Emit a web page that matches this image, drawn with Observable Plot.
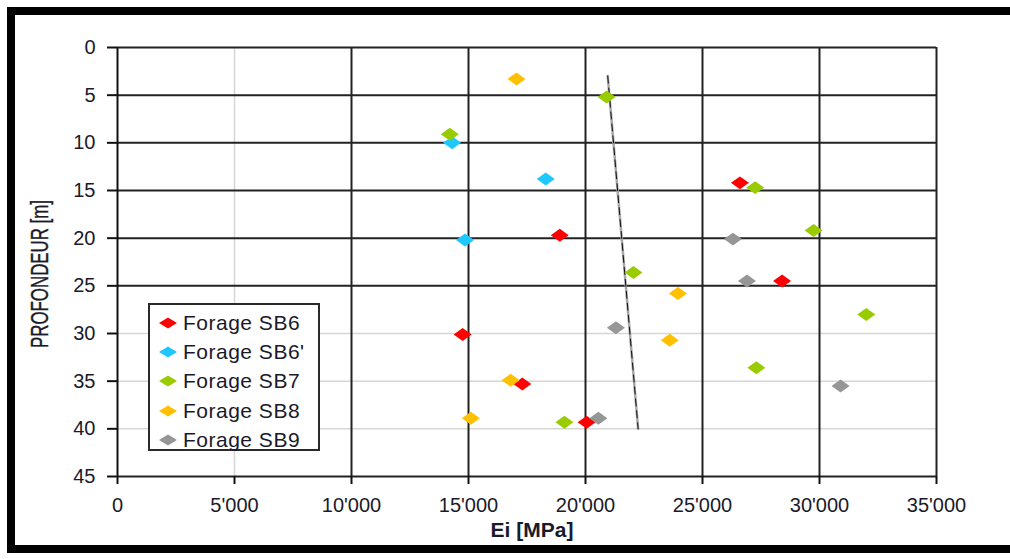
<!DOCTYPE html>
<html>
<head>
<meta charset="utf-8">
<script src="https://cdn.jsdelivr.net/npm/d3@7"></script>
<script src="https://cdn.jsdelivr.net/npm/@observablehq/plot@0.6"></script>
<style>
  html, body { margin: 0; padding: 0; background: #fff; }
  #wrap { position: relative; width: 1010px; height: 559px; overflow: hidden; font-family: "Liberation Sans", Arial, sans-serif; }
  #frame { position: absolute; left: 7px; top: 7px; width: 1020px; height: 546px; border-top: 8px solid #000; border-left: 8px solid #000; border-bottom: 8px solid #000; box-sizing: border-box; }
  #chart { position: absolute; left: 0; top: 0; }
  #legend { position: absolute; left: 148px; top: 303px; width: 172px; height: 148px; box-sizing: border-box; border: 2px solid #2a2a2a; background: #fff; padding-top: 3px; }
  .item { height: 29.3px; display: flex; align-items: center; font-size: 21px; letter-spacing: 0.5px; color: #1a1a2a; white-space: nowrap; }
  .item svg { margin-left: 8px; margin-right: 5px; }
</style>
</head>
<body>
<div id="wrap">
  <div id="chart"></div>
  <div id="frame"></div>
  <div id="legend"></div>
</div>
<script>
// ---- data ----
const seriesNames = ["Forage SB6", "Forage SB6'", "Forage SB7", "Forage SB8", "Forage SB9"];
const seriesColors = ["#ff0000", "#1ec8ff", "#99cc00", "#ffc000", "#969696"];

const sb6Ei    = [26600, 18900, 28400, 14750, 17300, 20050];
const sb6Depth = [14.2, 19.7, 24.5, 30.1, 35.3, 39.3];

const sb6pEi    = [14300, 18300, 14850];
const sb6pDepth = [10.0, 13.8, 20.2];

const sb7Ei    = [20900, 14200, 27250, 29750, 22050, 32000, 27300, 19100];
const sb7Depth = [5.2, 9.1, 14.7, 19.2, 23.6, 28.0, 33.6, 39.3];

const sb8Ei    = [17050, 23950, 23600, 16800, 15100];
const sb8Depth = [3.3, 25.8, 30.7, 34.9, 38.9];

const sb9Ei    = [26300, 26900, 21300, 30900, 20550];
const sb9Depth = [20.1, 24.5, 29.4, 35.5, 38.9];

const trendEi    = [20950, 22250];
const trendDepth = [3.0, 40.0];

const eiTicks    = [0, 5000, 10000, 15000, 20000, 25000, 30000, 35000];
const depthTicks = [0, 5, 10, 15, 20, 25, 30, 35, 40, 45];
const eiGridDark = [10000, 15000, 20000, 25000, 30000, 35000];
const eiGridLight = [5000];
const depthGridDark = [0, 5, 10, 15, 20, 25];
const depthGridLight = [30, 35, 40];

const xTitle = "Ei [MPa]";
const yTitle = "PROFONDEUR [m]";

// ---- build table ----
const seriesEi = [sb6Ei, sb6pEi, sb7Ei, sb8Ei, sb9Ei];
const seriesDepth = [sb6Depth, sb6pDepth, sb7Depth, sb8Depth, sb9Depth];
const points = [];
seriesNames.forEach((name, i) => {
  seriesEi[i].forEach((v, j) => points.push({series: name, ei: v, depth: seriesDepth[i][j]}));
});
const trend = trendEi.map((v, i) => ({ei: v, depth: trendDepth[i]}));

const flatDiamond = {
  draw(context, size) {
    const r = Math.sqrt(size / Math.PI);
    const a = r, b = r * 0.72;
    context.moveTo(0, -b);
    context.lineTo(a, 0);
    context.lineTo(0, b);
    context.lineTo(-a, 0);
    context.closePath();
  }
};

const fmtEi = d => d === 0 ? "0" : d3.format(",")(d).replace(/,/g, "'");
const tickColor = "#1a1a2a";

const chart = Plot.plot({
  width: 1010,
  height: 559,
  marginLeft: 117,
  marginRight: 74,
  marginTop: 47,
  marginBottom: 83,
  style: {fontFamily: "'Liberation Sans', Arial, sans-serif", background: "transparent"},
  x: {domain: [0, 35000]},
  y: {domain: [0, 45], reverse: true},
  color: {domain: seriesNames, range: seriesColors},
  marks: [
    Plot.ruleY(depthGridLight, {stroke: "#d6d6d6", strokeWidth: 1.5}),
    Plot.ruleX(eiGridLight, {stroke: "#d6d6d6", strokeWidth: 1.5}),
    Plot.ruleY(depthGridDark, {stroke: "#222", strokeWidth: 2}),
    Plot.ruleX(eiGridDark, {stroke: "#222", strokeWidth: 2}),
    Plot.ruleX([0], {stroke: "#111", strokeWidth: 2}),
    Plot.ruleY([45], {stroke: "#222", strokeWidth: 2}),
    Plot.axisX({ticks: eiTicks, tickFormat: fmtEi, tickSize: 8, tickPadding: 13, fontSize: 20, stroke: "#111", strokeWidth: 2, color: tickColor, label: null}),
    Plot.axisY({ticks: depthTicks, tickSize: 10, tickPadding: 12, fontSize: 20, stroke: "#111", strokeWidth: 2, color: tickColor, label: null}),
    Plot.line(trend, {x: "ei", y: "depth", stroke: "#a8a8a8", strokeWidth: 2.5}),
    Plot.line(trend, {x: "ei", y: "depth", stroke: "#111", strokeWidth: 1, strokeDasharray: "7,5"}),
    Plot.dot(points, {x: "ei", y: "depth", fill: "series", symbol: () => flatDiamond, r: 9, stroke: "none"})
  ]
});
document.getElementById("chart").appendChild(chart);

// axis titles
const svg = d3.select(chart);
svg.append("text")
  .attr("x", 532).attr("y", 537)
  .attr("text-anchor", "middle")
  .attr("font-size", 21).attr("font-weight", "bold")
  .attr("fill", tickColor)
  .text(xTitle);
svg.append("text")
  .attr("transform", "translate(48,274) rotate(-90)")
  .attr("text-anchor", "middle")
  .attr("font-size", 23)
  .attr("stroke", tickColor).attr("stroke-width", 0.4)
  .attr("fill", tickColor)
  .attr("textLength", 148).attr("lengthAdjust", "spacingAndGlyphs")
  .text(yTitle);

// legend
const legend = d3.select("#legend");
seriesNames.forEach((name, i) => {
  const it = legend.append("div").attr("class", "item");
  const s = it.append("svg").attr("width", 20).attr("height", 14);
  s.append("path").attr("d", "M10,1.5 L19,7 L10,12.5 L1,7 Z").attr("fill", seriesColors[i]);
  it.append("span").text(name);
});
</script>
</body>
</html>
